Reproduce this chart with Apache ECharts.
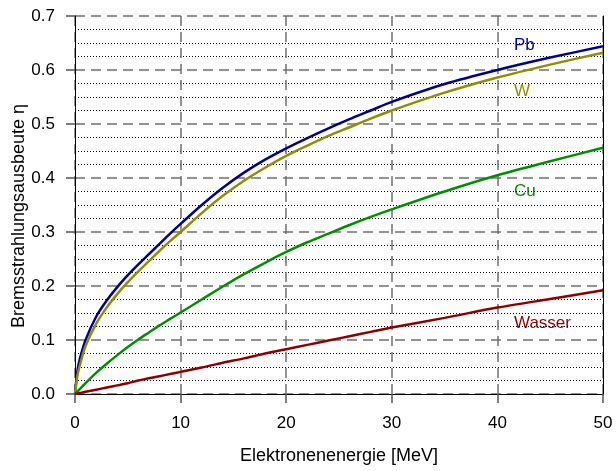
<!DOCTYPE html>
<html>
<head>
<meta charset="utf-8">
<script src="https://cdn.jsdelivr.net/npm/echarts@6/dist/echarts.min.js"></script>
<style>
html,body{margin:0;padding:0;background:#fff;}
#c{width:616px;height:471px;}
</style>
</head>
<body>
<div id="c"></div>
<script>
// Electron energy [MeV]
const energy = [0,0.25,0.5,1,2,3,4,5,6,7,8,9,10,12,14,16,18,20,22,24,26,28,30,35,40,45,50];
const pb     = [0,0.046,0.068,0.1,0.143,0.173,0.198,0.22,0.24,0.259,0.278,0.297,0.315,0.35,0.382,0.41,0.434,0.455,0.474,0.492,0.509,0.525,0.541,0.574,0.600,0.623,0.644];
const w      = [0,0.036,0.056,0.089,0.13,0.16,0.185,0.207,0.227,0.246,0.265,0.283,0.300,0.335,0.367,0.395,0.419,0.441,0.46,0.478,0.494,0.51,0.525,0.558,0.586,0.61,0.632];
const cu     = [0,0.005,0.01,0.02,0.039,0.056,0.072,0.087,0.101,0.114,0.127,0.139,0.151,0.175,0.199,0.222,0.243,0.263,0.281,0.297,0.313,0.328,0.342,0.375,0.405,0.431,0.456];
const wasser = [0,0.001,0.002,0.004,0.008,0.012,0.016,0.02,0.025,0.029,0.033,0.037,0.041,0.049,0.058,0.066,0.075,0.083,0.091,0.099,0.107,0.115,0.123,0.141,0.16,0.176,0.192];
const seriesNames = ['Pb','W','Cu','Wasser'];
const xTicks = [0,10,20,30,40,50];
const yTicks = [0,0.1,0.2,0.3,0.4,0.5,0.6,0.7];

const colors = {Pb:'#000099', W:'#8f8f00', Cu:'#008f00', Wasser:'#8f0000'};
const FONT = '"Liberation Sans", Arial, sans-serif';

function pairs(ys){ return energy.map((x,i)=>[x, ys[i]]); }
const values = {Pb:pb, W:w, Cu:cu, Wasser:wasser};

const chart = echarts.init(document.getElementById('c'), null, {renderer:'canvas'});
const dashed = {color:'#707070', width:1.5, type:[10,6]};

const option = {
  animation:false,
  backgroundColor:'#fff',
  grid:{left:75, right:13, top:16, bottom:77, containLabel:false},
  xAxis:{
    type:'value', min:xTicks[0], max:xTicks[xTicks.length-1], interval:10,
    name:'Elektronenenergie [MeV]', nameLocation:'middle', nameGap:53,
    nameTextStyle:{fontFamily:FONT, fontSize:18, color:'#000'},
    axisLine:{show:true, onZero:false, lineStyle:{color:'#000', width:1}},
    axisTick:{show:true, inside:false, length:9, lineStyle:{color:'#555', width:1.5}},
    axisLabel:{fontFamily:FONT, fontSize:17, color:'#000', margin:21},
    splitLine:{show:true, lineStyle:dashed}
  },
  yAxis:[{
    type:'value', min:yTicks[0], max:yTicks[yTicks.length-1], interval:0.1,
    axisLine:{show:true, onZero:false, lineStyle:{color:'#000', width:1}},
    axisTick:{show:true, inside:false, length:9, lineStyle:{color:'#555', width:1.5}},
    axisLabel:{fontFamily:FONT, fontSize:17, color:'#000', margin:20, formatter:v=>v.toFixed(1)},
    splitLine:{show:true, lineStyle:dashed},
    minorTick:{show:true, splitNumber:4, length:0},
    minorSplitLine:{show:true, lineStyle:{color:'#000', width:1, type:[1,2]}}
  },{
    type:'value', min:yTicks[0], max:yTicks[yTicks.length-1], interval:0.1, position:'right',
    axisLine:{show:true, onZero:false, lineStyle:{color:'#000', width:1}},
    axisTick:{show:false}, axisLabel:{show:false}, splitLine:{show:false}
  }],
  series: seriesNames.map(n=>({
    name:n, type:'line', data:pairs(values[n]), yAxisIndex:0,
    showSymbol:false, symbol:'none', smooth:0.3,
    lineStyle:{color:colors[n], width:2.5}, z:5
  })),
  graphic:[
    {type:'text', left:514, top:37, style:{text:'Pb', fill:colors.Pb, font:'17px '+FONT}},
    {type:'text', left:514, top:83, style:{text:'W', fill:colors.W, font:'17px '+FONT}},
    {type:'text', left:514, top:183, style:{text:'Cu', fill:colors.Cu, font:'17px '+FONT}},
    {type:'text', left:514, top:315, style:{text:'Wasser', fill:colors.Wasser, font:'17px '+FONT}},
    {type:'text', x:19, y:216, rotation:Math.PI/2,
     style:{text:'Bremsstrahlungsausbeute η', fill:'#000', font:'18px '+FONT, textAlign:'center', textVerticalAlign:'middle'}}
  ]
};
chart.setOption(option);
</script>
</body>
</html>
